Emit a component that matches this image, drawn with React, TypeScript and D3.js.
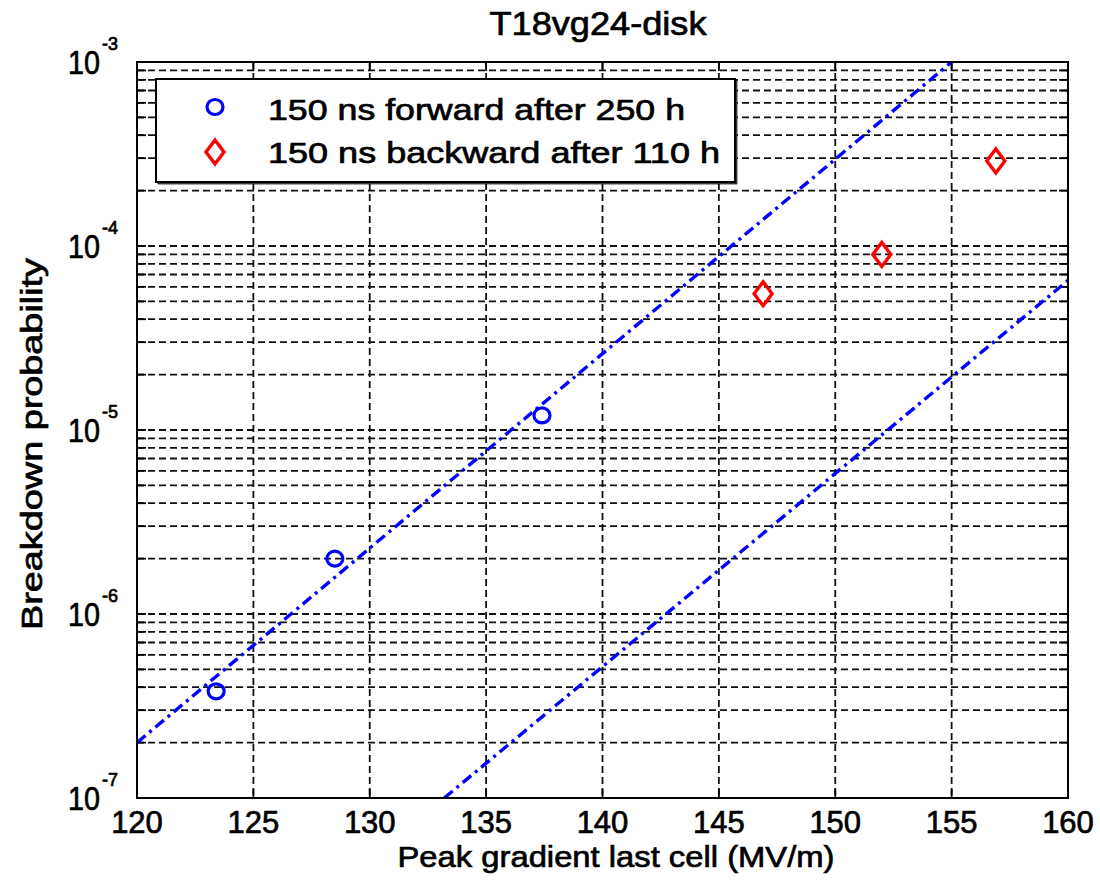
import * as d3 from "d3";
import React from "react";

const title = "T18vg24-disk";
const xLabel = "Peak gradient last cell (MV/m)";
const yLabel = "Breakdown probability";

const xTicks = [120, 125, 130, 135, 140, 145, 150, 155, 160];
const yDecades = [-7, -6, -5, -4, -3];

// 150 ns forward after 250 h
const fwdX = [123.4, 128.5, 137.4];
const fwdY = [3.8e-7, 2.0e-6, 1.2e-5];
// 150 ns backward after 110 h
const bwdX = [146.9, 152.0, 156.9];
const bwdY = [5.5e-5, 9.0e-5, 2.9e-4];

// fitted lines (end points)
const fitA: [number, number][] = [[120, 2.0e-7], [155, 1.0e-3]];
const fitB: [number, number][] = [[133.2, 1.0e-7], [160, 6.5e-5]];

const legendLabels = ["150 ns forward after 250 h", "150 ns backward after 110 h"];

const W = 1100, H = 883;
const m = { l: 137, r: 1068, t: 62, b: 798 };
const font = "'Liberation Sans', Arial, sans-serif";

const Diamond = ({ cx, cy }: { cx: number, cy: number }) => (
  <path d={`M${cx},${cy - 12}L${cx + 9},${cy}L${cx},${cy + 12}L${cx - 9},${cy}Z`}
    fill="none" stroke="#ff0000" strokeWidth={3.4} />
);

const Circle = ({ cx, cy }: { cx: number, cy: number }) => (
  <ellipse cx={cx} cy={cy} rx={8} ry={7.5} fill="none" stroke="#0000ff" strokeWidth={3.2} />
);

export default function App() {
  const x = d3.scaleLinear([120, 160], [m.l, m.r]);
  const y = d3.scaleLog([1e-7, 1e-3], [m.b, m.t]);
  const yGrid = y.ticks();
  const line = d3.line<[number, number]>().x(d => x(d[0])).y(d => y(d[1]));
  const tl = 9;

  return (
    <svg width={W} height={H} style={{ position: "absolute", left: 0, top: 0, background: "#fff" }}
      fontFamily={font}>
      <defs>
        <clipPath id="plot"><rect x={m.l} y={m.t} width={m.r - m.l} height={m.b - m.t} /></clipPath>
      </defs>
      <rect width={W} height={H} fill="#fff" />

      {/* grid */}
      <g stroke="#111" strokeWidth={1.8} strokeDasharray="7,4" fill="none">
        {yGrid.filter(v => v > 1e-7 * 1.01 && v < 1e-3 * 0.99).map((v, i) =>
          <line key={"gy" + i} x1={m.l} x2={m.r} y1={y(v)} y2={y(v)} />)}
        {xTicks.slice(1, -1).map(v =>
          <line key={"gx" + v} x1={x(v)} x2={x(v)} y1={m.t} y2={m.b} />)}
      </g>

      {/* ticks */}
      <g stroke="#000" strokeWidth={1.8}>
        {xTicks.map(v => <g key={"tx" + v}>
          <line x1={x(v)} x2={x(v)} y1={m.b} y2={m.b - tl} />
          <line x1={x(v)} x2={x(v)} y1={m.t} y2={m.t + tl} />
        </g>)}
        {yGrid.map((v, i) => <g key={"ty" + i}>
          <line x1={m.l} x2={m.l + tl} y1={y(v)} y2={y(v)} />
          <line x1={m.r} x2={m.r - tl} y1={y(v)} y2={y(v)} />
        </g>)}
      </g>

      {/* fit lines */}
      <g clipPath="url(#plot)" fill="none" stroke="#0000ff" strokeWidth={3.4} strokeDasharray="11,5,3,5">
        <path d={line(fitA) || ""} />
        <path d={line(fitB) || ""} />
      </g>

      {/* data */}
      {fwdX.map((v, i) => <Circle key={"f" + i} cx={x(v)} cy={y(fwdY[i])} />)}
      {bwdX.map((v, i) => <Diamond key={"b" + i} cx={x(v)} cy={y(bwdY[i])} />)}

      {/* frame */}
      <rect x={m.l} y={m.t} width={m.r - m.l} height={m.b - m.t} fill="none" stroke="#000" strokeWidth={2} />

      <g stroke="#000" strokeWidth={0.7}>
        {/* legend */}
        <rect x={158} y={81} width={579} height={103} fill="#555" />
        <rect x={156} y={79} width={579} height={103} fill="#fff" stroke="#000" strokeWidth={2} />
        <text x={268} y={120} fontSize={30} textLength={417} lengthAdjust="spacingAndGlyphs">{legendLabels[0]}</text>
        <text x={268} y={163} fontSize={30} textLength={452} lengthAdjust="spacingAndGlyphs">{legendLabels[1]}</text>

        {/* tick labels */}
        {xTicks.map(v => <text key={"lx" + v} x={x(v)} y={833} fontSize={31} textAnchor="middle">{v}</text>)}
        {yDecades.map(p => {
          const yy = y(Math.pow(10, p));
          return <g key={"ly" + p}>
            <text x={100} y={yy + 12} fontSize={33} textAnchor="end" textLength={32} lengthAdjust="spacingAndGlyphs">10</text>
            <text x={102} y={yy - 12} fontSize={18}>{p}</text>
          </g>;
        })}

        {/* titles */}
        <text x={598} y={35} fontSize={33} textAnchor="middle" textLength={217} lengthAdjust="spacingAndGlyphs">{title}</text>
        <text x={616} y={867} fontSize={30} textAnchor="middle" textLength={437} lengthAdjust="spacingAndGlyphs">{xLabel}</text>
        <text transform={`translate(42,444) rotate(-90)`} fontSize={30} textAnchor="middle" textLength={372} lengthAdjust="spacingAndGlyphs">{yLabel}</text>
      </g>
      <Circle cx={215} cy={107} />
      <Diamond cx={215} cy={152} />
    </svg>
  );
}
